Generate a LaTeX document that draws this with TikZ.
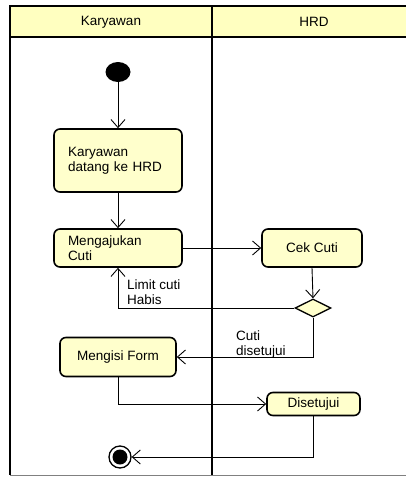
\documentclass[tikz,border=0pt]{standalone}
\usepackage{fontspec}
\setmainfont{Liberation Sans}
\usetikzlibrary{arrows.meta,shapes.geometric}
\definecolor{boxfill}{HTML}{FFFFCC}
\definecolor{headfill}{HTML}{FFFFC0}
\begin{document}
\begin{tikzpicture}[x=1pt,y=-1pt,
  every node/.style={font=\fontsize{13.5}{15}\selectfont},
  act/.style={draw=black,line width=1.6pt,rounded corners=6pt,fill=boxfill,inner sep=0pt},
  conn/.style={line width=0.9pt,-{Straight Barb[length=8pt,width=14pt,line width=0.9pt]}},
  lane/.style={line width=2pt},
  lbl/.style={inner sep=0pt,align=left,anchor=west}]
\useasboundingbox (0,0) rectangle (406,477);
% swimlanes
\fill[headfill] (10,6) rectangle (406,37);
\draw[lane] (406,6) -- (10,6) -- (10,475);
\draw[lane] (10,37) -- (406,37);
\draw[lane] (212,6) -- (212,475);
\draw[line width=0.6pt,gray] (10,475) -- (406,475);
\node (hk) at (111,22) {Karyawan};
\node (hh) at (314,22) {HRD};
% nodes
\node[ellipse,fill=black,minimum width=25pt,minimum height=20pt,inner sep=0pt] (start) at (118,72) {};
\node[act,minimum width=128pt,minimum height=63pt,text width=100pt,align=left] (datang) at (118,160.5) {Karyawan\\datang ke HRD};
\node[act,minimum width=128pt,minimum height=38pt,text width=100pt,align=left] (aju) at (118,248) {Mengajukan\\Cuti};
\node[act,minimum width=100pt,minimum height=38pt] (cek) at (312,248) {Cek Cuti};
\node[diamond,draw=black,line width=1.3pt,fill=boxfill,minimum width=36pt,minimum height=18pt,inner sep=0pt,aspect=2] (dia) at (313,308) {};
\node[act,minimum width=116pt,minimum height=39pt] (form) at (118,357) {Mengisi Form};
\node[act,minimum width=93pt,minimum height=23pt] (dis) at (313.5,404) {Disetujui};
\node[circle,draw=black,line width=1.3pt,fill=white,minimum size=22pt,inner sep=0pt] (end) at (120,457) {};
\fill[black] (end.center) circle (7.5pt);
% connectors
\draw[conn] (start) -- (datang.north);
\draw[conn] (datang) -- (aju.north);
\draw[conn] (aju.east) -- (cek.west);
\draw[conn] (cek.south) -- (dia.north);
\draw[conn] (dia.west) -| (aju.south);
\draw[conn] (dia.south) |- (form.east);
\draw[conn] (form.south) |- (dis.west);
\draw[conn] (dis.south) |- (end.east);
% labels
\node[lbl] (l1) at (127,292) {Limit cuti\\Habis};
\node[lbl] (l2) at (236,345) {Cuti\\disetujui};
\end{tikzpicture}
\end{document}
